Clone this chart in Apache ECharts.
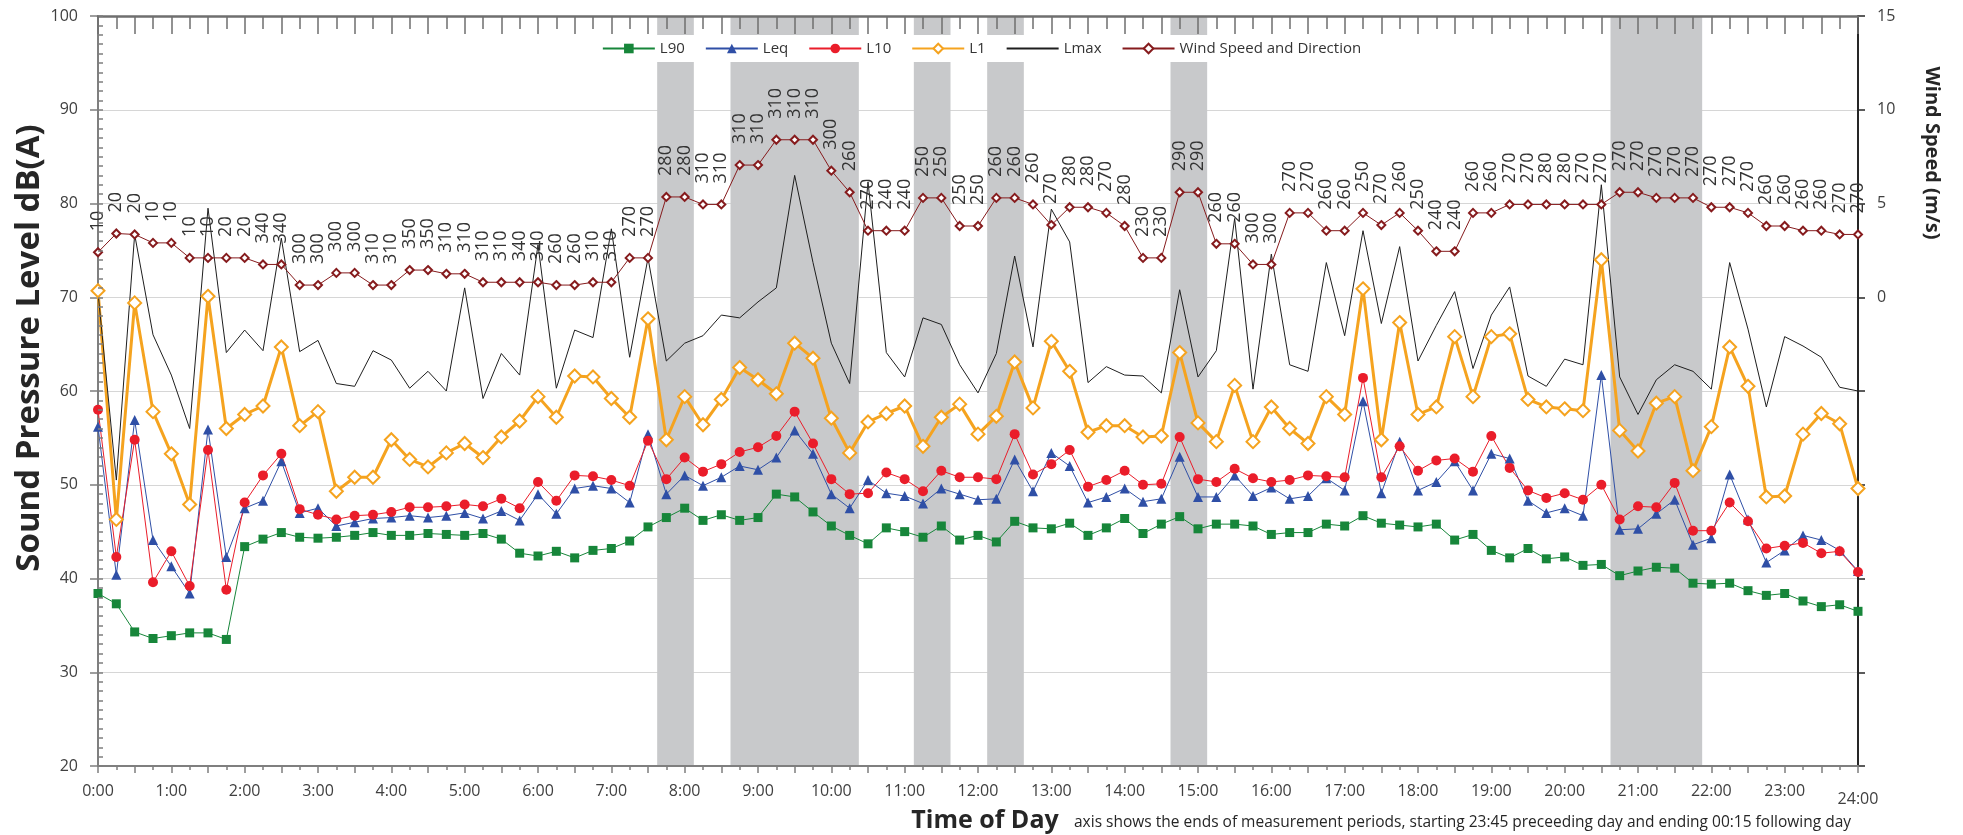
<!DOCTYPE html>
<html><head><meta charset="utf-8">
<script src="https://cdn.jsdelivr.net/npm/echarts/dist/echarts.min.js"></script>
<style>html,body{margin:0;padding:0;background:#fff}#c{width:1963px;height:835px}</style>
</head><body><div id="c"></div>
<script>
// tick labels (one per hour; data points every 15 minutes, index 0..96)
const hourLabels = ['0:00','1:00','2:00','3:00','4:00','5:00','6:00','7:00','8:00','9:00','10:00','11:00','12:00',
  '13:00','14:00','15:00','16:00','17:00','18:00','19:00','20:00','21:00','22:00','23:00','24:00'];

const L90 = [38.4,37.3,34.3,33.6,33.9,34.2,34.2,33.5,43.4,44.2,44.9,44.4,44.3,44.4,44.6,44.9,44.6,
  44.6,44.8,44.7,44.6,44.8,44.2,42.7,42.4,42.9,42.2,43.0,43.2,44.0,45.5,46.5,47.5,
  46.2,46.8,46.2,46.5,49.0,48.7,47.1,45.6,44.6,43.7,45.4,45.0,44.4,45.6,44.1,44.6,43.9,
  46.1,45.4,45.3,45.9,44.6,45.4,46.4,44.8,45.8,46.6,45.3,45.8,45.8,45.6,44.7,44.9,
  44.9,45.8,45.6,46.7,45.9,45.7,45.5,45.8,44.1,44.7,43.0,42.2,43.2,42.1,42.3,41.4,
  41.5,40.3,40.8,41.2,41.1,39.5,39.4,39.5,38.7,38.2,38.4,37.6,37.0,37.2,36.5];

const Leq = [56.2,40.4,56.9,44.1,41.3,38.4,55.9,42.3,47.5,48.3,52.5,47.0,47.5,45.6,46.0,46.4,46.5,
  46.7,46.5,46.7,47.0,46.4,47.2,46.2,49.0,46.9,49.6,49.9,49.6,48.1,55.4,49.0,51.0,
  49.9,50.8,52.0,51.6,52.9,55.8,53.3,49.0,47.5,50.5,49.1,48.8,48.0,49.6,49.0,48.4,48.5,
  52.7,49.3,53.4,52.0,48.1,48.7,49.6,48.2,48.5,53.0,48.7,48.7,51.0,48.8,49.7,48.5,
  48.8,50.7,49.4,58.9,49.1,54.6,49.4,50.3,52.5,49.4,53.3,52.8,48.3,47.0,47.5,46.7,
  61.7,45.2,45.3,46.9,48.4,43.6,44.3,51.1,46.3,41.7,43.0,44.6,44.1,43.0,40.8];

const L10 = [58.0,42.3,54.8,39.6,42.9,39.2,53.7,38.8,48.1,51.0,53.3,47.4,46.8,46.3,46.7,46.8,47.1,
  47.6,47.6,47.7,47.9,47.7,48.5,47.5,50.3,48.3,51.0,50.9,50.5,49.9,54.7,50.6,52.9,
  51.4,52.2,53.5,54.0,55.2,57.8,54.4,50.6,49.0,49.1,51.3,50.6,49.3,51.5,50.8,50.8,50.6,
  55.4,51.1,52.2,53.7,49.8,50.5,51.5,50.0,50.1,55.1,50.6,50.3,51.7,50.7,50.3,50.5,
  51.0,50.9,50.8,61.4,50.8,54.1,51.5,52.6,52.8,51.4,55.2,51.8,49.4,48.6,49.1,48.4,
  50.0,46.3,47.7,47.6,50.2,45.1,45.1,48.1,46.1,43.2,43.5,43.8,42.7,42.9,40.7];

const L1 = [70.7,46.3,69.4,57.8,53.3,47.9,70.1,56.0,57.5,58.4,64.7,56.3,57.8,49.3,50.8,50.8,54.8,
  52.7,51.9,53.4,54.4,52.9,55.1,56.8,59.4,57.2,61.6,61.5,59.2,57.2,67.7,54.8,59.4,
  56.4,59.1,62.5,61.2,59.7,65.1,63.5,57.1,53.4,56.7,57.6,58.4,54.1,57.2,58.6,55.4,57.3,
  63.1,58.2,65.3,62.1,55.6,56.3,56.3,55.1,55.2,64.1,56.6,54.6,60.6,54.6,58.3,56.0,
  54.4,59.4,57.5,70.9,54.8,67.3,57.5,58.3,65.8,59.4,65.8,66.1,59.1,58.3,58.1,57.9,
  74.0,55.8,53.6,58.7,59.4,51.5,56.2,64.7,60.5,48.7,48.8,55.4,57.6,56.5,49.6];

const Lmax = [70.5,50.5,76.7,66.0,61.7,56.0,79.5,64.1,66.5,64.3,76.3,64.2,65.4,60.8,60.5,64.3,63.3,
  60.3,62.1,60.0,71.0,59.2,64.0,61.7,75.6,60.3,66.5,65.7,77.3,63.6,74.2,63.2,65.1,
  65.9,68.1,67.8,69.5,71.0,83.0,73.7,65.1,60.8,82.3,64.1,61.5,67.8,67.1,62.8,59.8,64.0,
  74.4,64.7,79.4,75.9,60.9,62.6,61.7,61.6,59.8,70.8,61.5,64.3,78.4,60.2,74.6,62.8,
  62.1,73.7,65.9,77.1,67.2,75.4,63.2,67.0,70.6,62.4,68.1,71.1,61.6,60.5,63.4,62.8,
  82.0,61.5,57.5,61.2,62.8,62.1,60.2,73.7,66.6,58.3,65.8,64.8,63.6,60.4,60.0];

const windSpeed = [2.4,3.4,3.35,2.9,2.9,2.1,2.1,2.1,2.1,1.75,1.75,0.65,0.65,1.3,1.3,0.65,0.65,
  1.45,1.45,1.25,1.25,0.8,0.8,0.8,0.8,0.65,0.65,0.8,0.8,2.1,2.1,5.35,5.35,
  4.95,4.95,7.05,7.05,8.4,8.4,8.4,6.75,5.6,3.55,3.55,3.55,5.3,5.3,3.8,3.8,5.3,
  5.3,4.95,3.85,4.8,4.8,4.5,3.8,2.1,2.1,5.6,5.6,2.85,2.85,1.75,1.75,4.5,
  4.5,3.55,3.55,4.5,3.85,4.5,3.55,2.45,2.45,4.5,4.5,4.95,4.95,4.95,4.95,4.95,
  4.95,5.6,5.6,5.3,5.3,5.3,4.8,4.8,4.5,3.8,3.8,3.55,3.55,3.35,3.35];

const windDir = [10,20,20,10,10,10,10,20,20,340,340,300,300,300,300,310,310,
  350,350,310,310,310,310,340,340,260,260,310,310,270,270,280,280,
  310,310,310,310,310,310,310,300,260,270,240,240,250,250,250,250,260,
  260,260,270,280,280,270,280,230,230,290,290,260,260,300,300,270,
  270,260,260,250,270,260,250,240,240,260,260,270,270,280,280,270,
  270,270,270,270,270,270,270,270,270,260,260,260,260,270,270];

// periods shaded grey: wind speed above this value
const windLimit = 5;

const FONT = '"Open Sans", "Noto Sans", sans-serif';
const C = {L90:'#17863a', Leq:'#2f4fa6', L10:'#ea1d2a', L1:'#f5a31f', Lmax:'#1e1e1e', wind:'#861b1d', band:'#c8c9cb'};

const xy = arr => arr.map((v, i) => [i, v]);

// grey bands from wind data
const bands = [];
let s = null;
windSpeed.forEach((w, i) => {
  if (w > windLimit && s === null) s = i;
  if ((w <= windLimit || i === windSpeed.length - 1) && s !== null) {
    const e = w > windLimit ? i : i - 1;
    bands.push([{xAxis: s - 0.5}, {xAxis: e + 0.5}]);
    s = null;
  }
});

const chart = echarts.init(document.getElementById('c'));
chart.setOption({
  animation: false,
  backgroundColor: '#fff',
  textStyle: {fontFamily: FONT},
  grid: {left: 98, right: 105, top: 16, bottom: 69, containLabel: false},
  legend: {
    top: 35, left: 'center', backgroundColor: '#fff', padding: [6, 10],
    itemWidth: 52, itemHeight: 12, itemGap: 20,
    textStyle: {fontSize: 15, color: '#333', fontFamily: FONT},
    data: ['L90', 'Leq', 'L10', 'L1', {name: 'Lmax', itemStyle: {opacity: 0}}, 'Wind Speed and Direction']
  },
  xAxis: [{
    type: 'value', min: 0, max: 96, interval: 2, position: 'bottom', z: 5,
    axisLine: {onZero: false, lineStyle: {color: '#7f7f7f', width: 2}},
    axisTick: {length: 7, lineStyle: {color: '#7f7f7f', width: 1.5}},
    minorTick: {show: true, splitNumber: 2, length: 4, lineStyle: {color: '#7f7f7f', width: 1.5}},
    axisLabel: {
      fontSize: 16, color: '#404040', margin: 17, fontFamily: FONT,
      formatter: v => v % 4 === 0 ? (v === 96 ? '{low|' + hourLabels[v / 4] + '}' : hourLabels[v / 4]) : '',
      rich: {low: {fontSize: 16, color: '#404040', fontFamily: FONT, padding: [8, 0, 0, 0]}}
    },
    splitLine: {show: false}
  }, {
    type: 'value', min: 0, max: 96, interval: 2, position: 'top', z: 5,
    axisLine: {onZero: false, lineStyle: {color: '#6f6f6f', width: 2.5}},
    axisTick: {inside: true, length: 18, lineStyle: {color: '#6f6f6f', width: 1.5}},
    minorTick: {show: true, splitNumber: 2, length: 13, lineStyle: {color: '#6f6f6f', width: 1.5}},
    axisLabel: {show: false},
    splitLine: {show: false}
  }],
  yAxis: [{
    type: 'value', min: 20, max: 100, interval: 10, position: 'left',
    axisLine: {show: true, onZero: false, lineStyle: {color: '#7f7f7f', width: 2}},
    axisTick: {show: true, length: 8, lineStyle: {color: '#7f7f7f', width: 1.5}},
    axisLabel: {fontSize: 16, color: '#404040', margin: 20, fontFamily: FONT},
    splitLine: {show: true, lineStyle: {color: '#d6d6d6', width: 1}}
  }, {
    type: 'value', min: -25, max: 15, interval: 5, position: 'right',
    axisLine: {show: true, onZero: false, lineStyle: {color: '#262626', width: 2}},
    axisTick: {show: true, length: 7, lineStyle: {color: '#262626', width: 1.5}},
    axisLabel: {fontSize: 16, color: '#404040', margin: 19, fontFamily: FONT,
      formatter: v => v >= 0 ? String(v) : ''},
    splitLine: {show: false}
  }, {
    type: 'value', min: 20, max: 100, interval: 1, position: 'left', z: 5,
    axisLine: {show: false, onZero: false},
    axisTick: {show: true, inside: true, length: 5, lineStyle: {color: '#7f7f7f', width: 1.5}},
    axisLabel: {show: false},
    splitLine: {show: false}
  }],
  graphic: [
    {type: 'text', x: 30, y: 348, rotation: Math.PI / 2,
      style: {text: 'Sound Pressure Level dB(A)', font: 'bold 33px ' + FONT, fill: '#262626', align: 'center', verticalAlign: 'middle'}},
    {type: 'text', x: 1932, y: 153, rotation: -Math.PI / 2,
      style: {text: 'Wind Speed (m/s)', font: 'bold 20px ' + FONT, fill: '#262626', align: 'center', verticalAlign: 'middle'}},
    {type: 'text', x: 985, y: 821,
      style: {text: 'Time of Day', font: 'bold 25px ' + FONT, fill: '#262626', align: 'center', verticalAlign: 'middle'}},
    {type: 'text', x: 1074, y: 823,
      style: {text: 'axis shows the ends of measurement periods, starting 23:45 preceeding day and ending 00:15 following day',
        font: '15.5px ' + FONT, fill: '#262626', align: 'left', verticalAlign: 'middle'}}
  ],
  series: [
    {name: 'bands', type: 'line', data: [], z: 1, silent: true,
      markArea: {silent: true, itemStyle: {color: C.band}, data: bands}},
    {name: 'L90', type: 'line', data: xy(L90), symbol: 'rect', symbolSize: 9,
      itemStyle: {color: C.L90}, lineStyle: {color: C.L90, width: 1}},
    {name: 'Leq', type: 'line', data: xy(Leq), symbol: 'triangle', symbolSize: 10,
      itemStyle: {color: C.Leq}, lineStyle: {color: C.Leq, width: 1}},
    {name: 'L10', type: 'line', data: xy(L10), symbol: 'circle', symbolSize: 10,
      itemStyle: {color: C.L10}, lineStyle: {color: C.L10, width: 1}},
    {name: 'L1', type: 'line', data: xy(L1), symbol: 'diamond', symbolSize: 13,
      itemStyle: {color: '#fff', borderColor: C.L1, borderWidth: 2}, lineStyle: {color: C.L1, width: 3}},
    {name: 'Lmax', type: 'line', data: xy(Lmax), symbol: 'none',
      itemStyle: {color: C.Lmax}, lineStyle: {color: C.Lmax, width: 1}},
    {name: 'Wind Speed and Direction', type: 'line', yAxisIndex: 1, data: xy(windSpeed),
      symbol: 'diamond', symbolSize: 8,
      itemStyle: {color: '#fff', borderColor: C.wind, borderWidth: 2}, lineStyle: {color: C.wind, width: 1},
      label: {show: true, position: 'top', distance: 16, rotate: 90, align: 'left', verticalAlign: 'middle',
        fontSize: 18, color: '#333', fontFamily: FONT,
        formatter: p => String(windDir[p.dataIndex])}}
  ]
});
</script></body></html>
